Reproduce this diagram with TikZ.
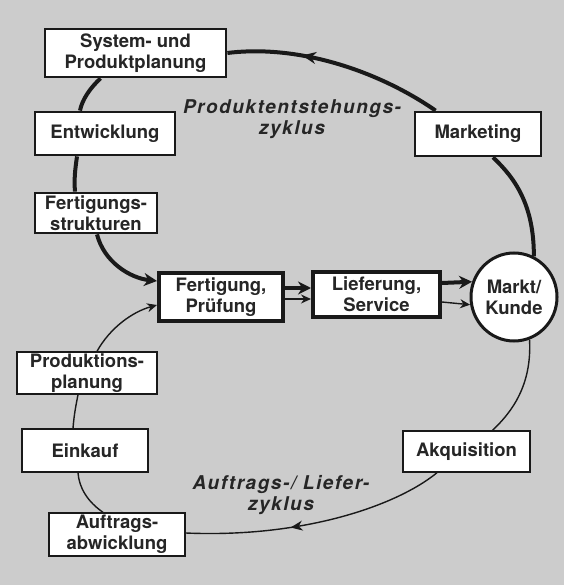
\documentclass[tikz,border=0pt]{standalone}
\usepackage{fontspec}
\setmainfont{TeX Gyre Heros}
\newfontfamily\cyclefont[LetterSpace=8]{TeX Gyre Heros}
\usetikzlibrary{arrows.meta,calc,shapes.geometric,decorations.markings}

\tikzset{
  box/.style={draw=black!90, fill=white, align=center, inner sep=0pt,
    font=\fontsize{18.5}{21}\selectfont\bfseries, text=black!85},
  ringbox/.style={box, line width=2.8pt},
  mainbox/.style={box, line width=4pt},
  thinbox/.style={box, line width=1.4pt},
  thickline/.style={draw=black!90, line width=4pt},
  thinline/.style={draw=black!90, line width=1.4pt},
  thicktip/.style={-{Stealth[length=13pt,width=13pt]}},
  thintip/.style={-{Stealth[length=10pt,width=9pt]}},
  midarrow/.style={postaction={decorate}, decoration={markings,
    mark=at position #1 with {\arrow{Stealth[length=14pt,width=12pt]}}}},
  midarrowthin/.style={postaction={decorate}, decoration={markings,
    mark=at position #1 with {\arrow{Stealth[length=12pt,width=10pt]}}}},
  cyclabel/.style={align=center, inner sep=0pt,
    font=\fontsize{19}{21.5}\cyclefont\bfseries\itshape, text=black!85},
}

\begin{document}
\begin{tikzpicture}[x=1pt,y=-1pt]
  % page and halftone-grey ground
  \fill[black!20] (0,0) rectangle (564,585);
  \useasboundingbox (0,0) rectangle (564,585);

  % product creation cycle
  \node[ringbox, minimum width=181pt, minimum height=48pt] (plan) at (135.5,53) {System- und\\Produktplanung};
  \node[ringbox, minimum width=140pt, minimum height=43pt] (entw) at (105,133.5) {Entwicklung};
  \node[ringbox, minimum width=122pt, minimum height=40pt] (fstr) at (96,213) {Fertigungs-\\strukturen};
  \node[ringbox, minimum width=126pt, minimum height=44pt] (mark) at (478,134) {Marketing};

  % shared core
  \node[mainbox, minimum width=124pt, minimum height=48pt] (fert) at (221,297) {Fertigung,\\Prüfung};
  \node[mainbox, minimum width=127pt, minimum height=45pt] (lief) at (376.5,294.5) {Lieferung,\\Service};
  \node[box, ellipse, line width=3pt, minimum width=86pt, minimum height=88pt] (kunde) at (514,297) {Markt/\\Kunde};

  % order / delivery cycle
  \node[thinbox, minimum width=140pt, minimum height=42pt] (pplan) at (87,373) {Produktions-\\planung};
  \node[thinbox, minimum width=126pt, minimum height=43pt] (eink) at (85,450.5) {Einkauf};
  \node[thinbox, minimum width=136pt, minimum height=43pt] (aufw) at (117,534.5) {Auftrags-\\abwicklung};
  \node[thinbox, minimum width=127pt, minimum height=41pt] (akq) at (466.5,451.5) {Akquisition};

  % cycle titles
  \node[cyclabel] (t1) at (292,119) {Produktentstehungs-\\zyklus};
  \node[cyclabel] (t2) at (281,495) {Auftrags-/ Liefer-\\zyklus};

  % thick ring
  \draw[thickline] (kunde.64) .. controls (534,205) and (515,178) .. ($(mark.south)+(15,0)$);
  \draw[thickline, midarrow=0.66] ($(mark.north west)+(22,0)$) .. controls (380,72) and (300,44) .. (plan.east);
  \draw[thickline] ($(plan.south)+(-35,0)$) .. controls (90,88) and (82,100) .. ($(entw.north)+(-25,0)$);
  \draw[thickline] ($(entw.south)+(-28,0)$) .. controls (75,170) and (74,180) .. ($(fstr.north)+(-21,0)$);
  \draw[thickline, thicktip] ($(fstr.south)+(1,0)$) .. controls (104,262) and (130,278) .. ([yshift=16pt]fert.west);
  \draw[thickline, thicktip] ([yshift=9pt]fert.east) -- ([yshift=9pt]fert.east -| lief.west);
  \draw[thickline, thicktip] ([yshift=11.5pt]lief.east) -- (kunde.160);

  % thin ring
  \draw[thinline, thintip] ([yshift=-2pt]fert.east) -- ([yshift=-2pt]fert.east -| lief.west);
  \draw[thinline, thintip] ([yshift=-7.5pt]lief.east) -- (kunde.190);
  \draw[thinline] (kunde.-70) .. controls (532,385) and (512,412) .. ($(akq.north)+(26,0)$);
  \draw[thinline, midarrowthin=0.6] ($(akq.south)+(-29.5,0)$) .. controls (395,507) and (300,538) .. ([yshift=1.5pt]aufw.east);
  \draw[thinline] ($(aufw.north)+(-14,0)$) .. controls (88,502) and (79,488) .. ($(eink.south)+(-7,0)$);
  \draw[thinline] ($(eink.north)+(-12,0)$) .. controls (74,415) and (76,405) .. ($(pplan.south)+(-9,0)$);
  \draw[thinline, thintip] ($(pplan.north)+(10,0)$) .. controls (110,328) and (132,312) .. ([yshift=-8pt]fert.west);
\end{tikzpicture}
\end{document}
